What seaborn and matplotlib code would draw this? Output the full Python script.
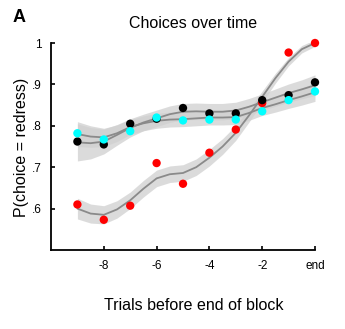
import matplotlib
matplotlib.use("Agg")
import matplotlib.pyplot as plt
import seaborn as sns
import pandas as pd
import numpy as np

sns.set_style("white")
plt.rcParams['font.family'] = ['Liberation Sans', 'DejaVu Sans']
plt.rcParams['text.color'] = 'black'
plt.rcParams['axes.labelcolor'] = 'black'
plt.rcParams['xtick.color'] = 'black'
plt.rcParams['ytick.color'] = 'black'

# observed points
trials = [-9, -8, -7, -6, -5, -4, -3, -2, -1, 0]
red_pts = [0.610, 0.573, 0.607, 0.710, 0.660, 0.735, 0.791, 0.855, 0.977, 1.000]
black_pts = [0.762, 0.755, 0.805, 0.817, 0.843, 0.830, 0.830, 0.862, 0.874, 0.905]
cyan_pts = [0.782, 0.767, 0.787, 0.820, 0.813, 0.815, 0.815, 0.835, 0.862, 0.883]

# fitted curves, read at half-trial steps
curve_x = [-9, -8.5, -8, -7.5, -7, -6.5, -6, -5.5, -5, -4.5, -4, -3.5, -3, -2.5, -2, -1.5, -1, -0.5, 0]
red_fit = [0.600, 0.588, 0.585, 0.598, 0.620, 0.648, 0.673, 0.683, 0.686, 0.700, 0.723, 0.750,
           0.783, 0.825, 0.870, 0.915, 0.955, 0.985, 1.000]
red_se = [0.025, 0.023, 0.022, 0.021, 0.020, 0.020, 0.020, 0.020, 0.020, 0.020, 0.020, 0.019,
          0.018, 0.016, 0.014, 0.012, 0.010, 0.009, 0.008]
black_fit = [0.760, 0.758, 0.762, 0.778, 0.795, 0.808, 0.818, 0.828, 0.834, 0.835, 0.834, 0.834,
             0.837, 0.846, 0.857, 0.868, 0.879, 0.888, 0.898]
black_se = [0.045, 0.038, 0.030, 0.025, 0.022, 0.020, 0.020, 0.020, 0.020, 0.020, 0.020, 0.020,
            0.020, 0.020, 0.020, 0.021, 0.022, 0.023, 0.025]
cyan_fit = [0.780, 0.774, 0.772, 0.782, 0.797, 0.806, 0.812, 0.815, 0.816, 0.818, 0.820, 0.820,
            0.821, 0.831, 0.843, 0.852, 0.862, 0.871, 0.881]
cyan_se = [0.030, 0.026, 0.022, 0.020, 0.018, 0.018, 0.018, 0.018, 0.018, 0.018, 0.018, 0.018,
           0.018, 0.018, 0.018, 0.019, 0.020, 0.021, 0.022]

xtick_vals = [-8, -6, -4, -2, 0]
xtick_labels = ['-8', '-6', '-4', '-2', 'end']
ytick_vals = [0.6, 0.7, 0.8, 0.9, 1.0]
ytick_labels = ['.6', '.7', '.8', '.9', '1']

fig = plt.figure(figsize=(3.45, 3.29), dpi=100)
ax = fig.add_axes([51 / 345, 1 - 250 / 329, (315 - 51) / 345, (250 - 43) / 329])

band_color = '#d0d0d0'
line_color = '#8a8a8a'

for fit, se in [(black_fit, black_se), (cyan_fit, cyan_se), (red_fit, red_se)]:
    f = np.array(fit)
    s = np.array(se)
    ax.fill_between(curve_x, f - s, f + s, color=band_color, alpha=0.75, linewidth=0, zorder=1)

for fit in [black_fit, cyan_fit, red_fit]:
    sns.lineplot(x=curve_x, y=fit, ax=ax, color=line_color, linewidth=1.3, zorder=2)

for pts, col in [(red_pts, '#ff0000'), (black_pts, '#000000'), (cyan_pts, '#00ffff')]:
    sns.scatterplot(x=trials, y=pts, ax=ax, color=col, s=36, edgecolor='none', zorder=3,
                    clip_on=False)

ax.set_xlim(-10, 0)
ax.set_ylim(0.5, 1.0)
ax.set_xticks(xtick_vals)
ax.set_xticklabels(xtick_labels)
ax.set_yticks(ytick_vals)
ax.set_yticklabels(ytick_labels)
ax.tick_params(bottom=True, left=True, direction='in', length=3, width=1.2,
               labelsize=8.5, color='black')
ax.tick_params(axis='x', pad=7)
ax.tick_params(axis='y', pad=7)
for sp in ['top', 'right']:
    ax.spines[sp].set_visible(False)
for sp in ['left', 'bottom']:
    ax.spines[sp].set_linewidth(1.3)
    ax.spines[sp].set_color('black')
ax.set_facecolor('white')

ax.set_xlabel('Trials before end of block', fontsize=11.5)
ax.xaxis.set_label_coords((194 - 51) / 264, -(306 - 250) / 207, transform=ax.transAxes)
ax.xaxis.label.set_va('center')
ax.set_ylabel('P(choice = redress)', fontsize=11.5)
ax.yaxis.set_label_coords(-(51 - 22) / 264, (250 - 147) / 207, transform=ax.transAxes)
ax.yaxis.label.set_va('center')

fig.text(193 / 345, 1 - 24 / 329, 'Choices over time', ha='center', va='center', fontsize=11.5)
fig.text(13 / 345, 1 - 18 / 329, 'A', ha='left', va='center', fontsize=13, fontweight='bold')

fig.savefig('out.png', dpi=100, facecolor='white')
